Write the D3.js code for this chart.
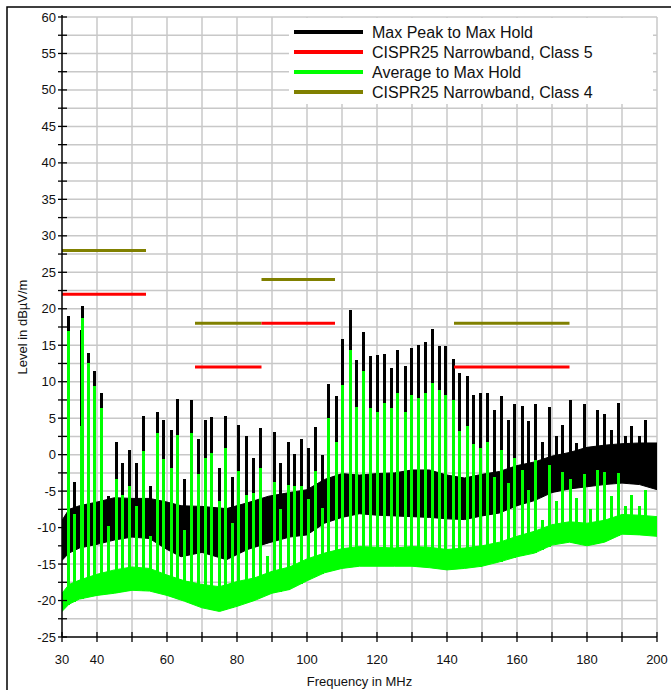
<!DOCTYPE html>
<html><head><meta charset="utf-8">
<script src="https://cdn.jsdelivr.net/npm/d3@7"></script>
<style>
body{margin:0;background:#fff;}
svg{display:block;font-family:"Liberation Sans",Arial,sans-serif;}
</style></head>
<body>
<svg id="chart" width="671" height="690"></svg>
<script>
// ---------- data ----------
const xTickLabels = [30, 40, 60, 80, 100, 120, 140, 160, 180, 200];
const yTickLabels = [-25,-20,-15,-10,-5,0,5,10,15,20,25,30,35,40,45,50,55,60];

// noise floor envelopes (MHz, dBµV/m)
const bandFreq   = [30,32,35,40,45,50,55,60,64,70,77,83,89,95,100,105,110,115,120,125,130,135,140,145,150,155,160,165,170,175,180,185,190,195,200];
const peakUpper  = [-9,-7.5,-7,-6.5,-5.9,-6,-6,-6.5,-7,-7.1,-7.4,-6.6,-5.7,-5.2,-4.8,-3.4,-2.6,-2.8,-2.6,-2.5,-2.1,-2.1,-2.8,-3.2,-2.7,-2.3,-1.5,-1.0,-0.2,0.3,1.0,1.3,1.5,1.6,1.6];
const peakLower  = [-14.5,-13.5,-12.8,-12.3,-11.7,-11.3,-11.5,-13,-14,-13.4,-14.4,-13,-12.1,-11.3,-11,-9.4,-8.6,-8.1,-8.3,-8.4,-8.5,-8.6,-8.8,-8.9,-8.4,-8.0,-7.0,-6.3,-5.2,-4.7,-4.4,-4.1,-3.9,-4.1,-4.8];
const avgFreq    = [30,32,35,40,45,50,55,60,65,70,75,80,85,90,95,100,105,110,115,120,125,130,135,140,145,150,155,160,165,170,175,180,185,190,195,200];
const avgUpper   = [-19.0,-17.8,-17.2,-16.4,-15.8,-15.4,-15.6,-16.5,-17.3,-17.8,-18.1,-17.4,-16.9,-16.0,-15.4,-14.3,-13.5,-12.9,-12.6,-12.7,-12.8,-12.6,-12.7,-13.0,-12.8,-12.5,-12.0,-11.2,-10.5,-9.6,-9.2,-9.4,-9.0,-8.2,-8.3,-8.5];
const avgLower   = [-21.5,-20.5,-19.8,-19.3,-19.0,-18.6,-18.7,-19.3,-20.1,-21.0,-21.5,-20.8,-20.0,-19.0,-18.5,-17.3,-16.2,-15.6,-15.3,-15.3,-15.3,-15.3,-15.5,-15.8,-15.6,-15.3,-14.7,-14.0,-13.5,-12.4,-12.0,-12.5,-12.0,-10.9,-11.0,-11.2];

// narrowband emission lines
const spikeFreq  = [31.7,33.4,35.3,35.7,37.4,39.1,41.2,43.1,45.3,47.1,49.1,51.1,53.1,55.0,57.1,58.9,61.0,62.9,64.9,66.9,68.8,70.9,72.6,74.8,76.6,78.7,80.4,82.6,84.5,86.6,88.5,90.6,92.3,94.5,96.3,98.4,100.3,102.4,104.3,106.0,108.2,110.0,112.2,114.0,116.0,117.9,120.0,121.9,124.0,125.7,127.9,129.8,131.8,133.7,135.6,137.7,139.4,141.7,143.4,145.6,147.4,149.4,151.3,153.4,155.3,157.4,159.1,161.3,163.2,165.2,167.1,169.1,171.1,172.9,175.1,176.9,179.1,180.9,182.9,184.8,186.9,188.8,190.9,192.6,194.8,196.7];
const spikePeak  = [19.0,-3.7,17.1,20.4,14.0,11.4,8.4,-5.7,1.7,-1.1,0.6,-1.1,5.3,-4.3,5.9,4.7,3.4,7.6,-3.4,7.5,2.1,4.8,5.2,-1.8,5.3,-3.1,4.0,2.5,-0.5,3.7,-7,3.1,-1.2,1.8,0.1,2.1,0.9,3.8,-0.1,9.7,8.0,15.9,19.8,13.0,16.8,13.5,13.6,13.8,11.9,14.3,12.2,14.6,15.1,15.5,17.2,14.9,14.9,13.1,11.2,10.8,8.2,8.4,8.4,6.1,8.1,4.7,6.9,6.7,4.6,6.9,1.8,6.6,2.6,4.1,7.5,1.6,7.0,1.1,6.1,5.6,3.4,7.1,2.5,3.9,2.5,4.8];
const spikeAvg   = [16.9,-8.2,3.9,18.7,12.5,9.4,6.4,-9.8,-3.4,-5.6,-4.3,-7.1,0.5,-11.1,2.9,-0.6,-1.8,2.7,-10.3,2.9,-2.7,-0.5,0.2,-6.4,0.9,-9.4,-2.3,-5.6,-5.3,-1.8,-13.9,-3.8,-7.5,-4.1,-4.3,-4.3,-6.1,-2.3,-7.3,5.0,1.8,9.6,14.4,6.6,11.4,6.4,5.9,7.1,6.4,8.4,5.9,8.2,7.8,8.5,9.8,8.8,8.2,7.5,3.3,3.9,1.4,0.9,1.7,-3.0,0.7,-3.9,-0.5,-2.1,-4.8,-0.7,-8.9,-1.4,-6.3,-2.4,-3.3,-5.9,-2.6,-7.5,-2.1,-2.4,-5.7,-2.5,-7,-5.5,-7,-4.8];

// CISPR 25 narrowband limits
const limitStart  = [30, 68, 87, 142];
const limitEnd    = [54, 87, 108, 175];
const class5Level = [22, 12, 18, 12];
const class4Level = [28, 18, 24, 18];

const legendLabels = ["Max Peak to Max Hold","CISPR25 Narrowband, Class 5","Average to Max Hold","CISPR25 Narrowband, Class 4"];
const legendColors = ["#000000","#ff0000","#00ff00","#808000"];

// ---------- layout ----------
const svg = d3.select("#chart");
const L = 62, R = 657, T = 17, B = 637;
const x = d3.scaleLinear().domain([30,200]).range([L,R]);
const y = d3.scaleLinear().domain([-25,60]).range([B,T]);

// outer frame
svg.append("path").attr("d",`M7,690V7H671`).attr("fill","none").attr("stroke","#000").attr("stroke-width",1.5);

// grid
const grid = svg.append("g").attr("stroke","#c8c8c8").attr("stroke-width",1.5);
grid.selectAll("line.v").data(d3.range(40,201,10)).join("line")
  .attr("x1",d=>x(d)).attr("x2",d=>x(d)).attr("y1",T).attr("y2",B);
grid.selectAll("line.h").data(d3.range(-22.5,60.1,2.5)).join("line")
  .attr("x1",L).attr("x2",R).attr("y1",d=>y(d)).attr("y2",d=>y(d));

svg.append("clipPath").attr("id","clip").append("rect").attr("x",L).attr("y",T).attr("width",R-L).attr("height",B-T);
const plot = svg.append("g").attr("clip-path","url(#clip)");

const lowerAt = (fa, la, f) => d3.scaleLinear().domain(fa).range(la)(f);
const sx = f => Math.round(x(f)) + 0.5;

// peak (black)
const peakArea = d3.area().x((d,i)=>x(bandFreq[i])).y0((d,i)=>y(peakLower[i])).y1((d,i)=>y(peakUpper[i]));
plot.append("path").datum(bandFreq).attr("d",peakArea).attr("fill","#000").attr("stroke","#000").attr("stroke-width",1);
plot.selectAll("line.pk").data(spikeFreq).join("line")
  .attr("x1",sx).attr("x2",sx)
  .attr("y1",d=>y(lowerAt(bandFreq,peakLower,d)))
  .attr("y2",(d,i)=>y(spikePeak[i]))
  .attr("stroke","#000").attr("stroke-width",3).attr("shape-rendering","crispEdges");

// average (green)
const avgArea = d3.area().x((d,i)=>x(avgFreq[i])).y0((d,i)=>y(avgLower[i])).y1((d,i)=>y(avgUpper[i]));
plot.append("path").datum(avgFreq).attr("d",avgArea).attr("fill","#00ff00").attr("stroke","#00ff00").attr("stroke-width",1);
plot.selectAll("line.av").data(spikeFreq).join("line")
  .attr("x1",sx).attr("x2",sx)
  .attr("y1",d=>y(lowerAt(avgFreq,avgLower,d)))
  .attr("y2",(d,i)=>y(spikeAvg[i]))
  .attr("stroke","#00ff00").attr("stroke-width",3).attr("shape-rendering","crispEdges");

// limit lines
function limits(levels,color){
  plot.selectAll(null).data(levels).join("line")
    .attr("x1",(d,i)=>x(limitStart[i])).attr("x2",(d,i)=>x(limitEnd[i]))
    .attr("y1",d=>y(d)).attr("y2",d=>y(d))
    .attr("stroke",color).attr("stroke-width",3);
}
limits(class4Level,"#808000");
limits(class5Level,"#ff0000");

// axes
const yAxis = svg.append("g").attr("transform",`translate(${L},0)`);
yAxis.append("line").attr("x1",0).attr("x2",0).attr("y1",T-2).attr("y2",B).attr("stroke","#000").attr("stroke-width",1.5);
yAxis.selectAll("line.t").data(d3.range(-25,60.1,2.5)).join("line")
  .attr("x1",-4).attr("x2",5).attr("y1",d=>y(d)).attr("y2",d=>y(d)).attr("stroke","#000").attr("stroke-width",1.3);
yAxis.selectAll("text").data(yTickLabels).join("text")
  .attr("x",-6).attr("y",d=>y(d)).attr("dy","0.35em").attr("text-anchor","end")
  .attr("font-size",13).attr("fill","#111").text(d=>d);

const xAxis = svg.append("g").attr("transform",`translate(0,${B})`);
xAxis.append("line").attr("x1",L).attr("x2",R).attr("y1",0).attr("y2",0).attr("stroke","#000").attr("stroke-width",1.5);
xAxis.selectAll("line.t").data(d3.range(30,201,10)).join("line")
  .attr("x1",d=>x(d)).attr("x2",d=>x(d)).attr("y1",-5).attr("y2",5).attr("stroke","#000").attr("stroke-width",1.3);
xAxis.selectAll("text").data(xTickLabels).join("text")
  .attr("x",d=>x(d)).attr("y",22).attr("dy","0.35em").attr("text-anchor","middle")
  .attr("font-size",13).attr("fill","#111").text(d=>d);

svg.append("text").attr("x",(L+R)/2).attr("y",681).attr("dy","0.35em").attr("text-anchor","middle")
  .attr("font-size",13).attr("fill","#111").text("Frequency in MHz");
svg.append("text").attr("transform","translate(22,327) rotate(-90)").attr("dy","0.35em").attr("text-anchor","middle")
  .attr("font-size",13).attr("fill","#111").text("Level in dBµV/m");

// legend
const lg = svg.append("g");
lg.append("rect").attr("x",289).attr("y",T+1).attr("width",364).attr("height",86).attr("fill","#fff");
legendLabels.forEach((lab,i)=>{
  const yy = 32 + i*20;
  lg.append("line").attr("x1",294).attr("x2",363).attr("y1",yy).attr("y2",yy).attr("stroke",legendColors[i]).attr("stroke-width",4);
  lg.append("text").attr("x",372).attr("y",yy).attr("dy","0.35em").attr("font-size",16).attr("fill","#111").text(lab);
});
</script>
</body></html>
